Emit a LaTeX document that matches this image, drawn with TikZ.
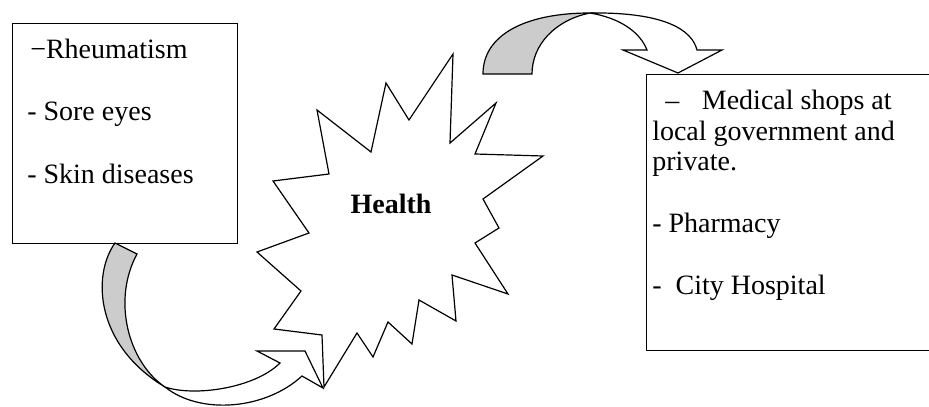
\documentclass[tikz,border=0pt]{standalone}
\usepackage{fontspec}
\setmainfont{Liberation Serif}
\usetikzlibrary{positioning}
\definecolor{BandGrey}{RGB}{204,204,204}
\tikzset{
  panel/.style={draw=black,line width=0.9pt,inner sep=0pt,anchor=north west},
  item/.style={inner sep=0pt,anchor=base west,font=\fontsize{21}{23}\selectfont},
  burst/.style={draw=black,line width=0.9pt,fill=white,line join=miter},
  backband/.style={draw=black,line width=0.9pt,fill=BandGrey},
  frontband/.style={draw=black,line width=0.9pt,fill=white,line join=miter},
}

\begin{document}
\begin{tikzpicture}[x=0.75pt,y=-0.75pt]
  \useasboundingbox (0,0) rectangle (929,407);

  % boxes
  \node[panel,minimum width=168.75pt,minimum height=165pt] (ills) at (12,23) {};
  \node[panel,minimum width=225pt,minimum height=207pt] (care) at (646,74) {};

  % left box text
  \node[item] (rheum) at (30,58) {−Rheumatism};
  \node[item] (eyes) at (27,120) {- Sore eyes};
  \node[item] (skin) at (27,183) {- Skin diseases};

  % right box text
  \node[item] (shopsa) at (665,109) {–\hspace{17pt}Medical shops at};
  \node[item] (shopsb) at (652,140) {local government and};
  \node[item] (shopsc) at (652,170) {private.};
  \node[item] (pharm) at (652,232) {- Pharmacy};
  \node[item] (hosp) at (652,294) {- \ City Hospital};

  % star
  \draw[burst] (317,110) -- (371,152) -- (386,83) -- (409,120) -- (453,54)
    -- (450,143) -- (496,103) -- (475,154) -- (543,156) -- (483,199)
    -- (499,228) -- (475,243) -- (508,294) -- (452,275) -- (456,321)
    -- (419,300) -- (412,344) -- (388,322) -- (373,357) -- (357,333)
    -- (324,387) -- (322,335) -- (274,329) -- (301,291) -- (257,252)
    -- (309,233) -- (273,181) -- (329,174) -- cycle;
  \node[font=\bfseries\fontsize{21}{23}\selectfont] (health) at (391,204) {Health};

  % arrow star -> right box
  \draw[backband] (483,74) .. controls (483,35) and (525,13) .. (590,13)
    .. controls (555,20) and (532,45) .. (532,74) -- cycle;
  \draw[frontband] (590,13) .. controls (665,12) and (692,30) .. (697,50)
    -- (722,50) -- (678,73) -- (623,50) -- (647,50)
    .. controls (640,32) and (620,18) .. (590,13) -- cycle;

  % arrow left box -> star
  \draw[backband] (115,243) .. controls (92,275) and (95,345) .. (165,387)
    .. controls (128,362) and (112,300) .. (137,254) -- cycle;
  \draw[frontband] (165,387) .. controls (195,397) and (255,388) .. (280,363)
    -- (257,351) -- (305,351) -- (323,388) -- (302,376)
    .. controls (265,410) and (200,415) .. (165,387) -- cycle;
\end{tikzpicture}
\end{document}
